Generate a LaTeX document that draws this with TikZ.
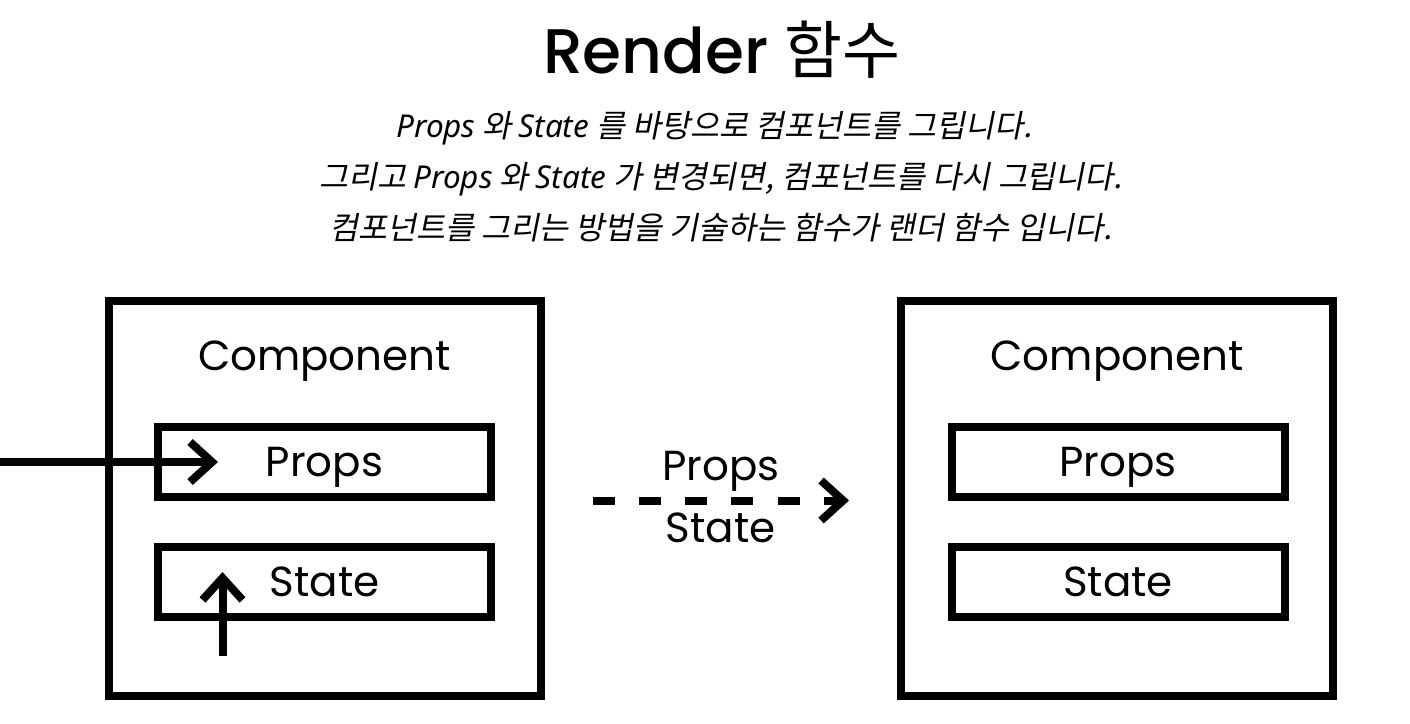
\documentclass[tikz,border=0pt]{standalone}
\usepackage{fontspec}
\setmainfont{Poppins}
\newfontfamily\titlefont{Poppins Medium}
\newfontfamily\krfont{Noto Sans CJK KR}
\newfontfamily\kritfont[FakeSlant=0.2]{Noto Sans CJK KR}
\newfontfamily\latitfont{Noto Sans}
\usepackage{xcolor}
\usepackage{tikz}
\usetikzlibrary{arrows.meta,positioning,calc}
\definecolor{ink}{HTML}{000000}
\definecolor{paper}{HTML}{FFFFFF}
\newcommand{\lt}[1]{{\latitfont\itshape #1}}
\tikzset{
  outerbox/.style={draw=ink, line width=8pt, minimum width=432pt, minimum height=395pt, inner sep=0pt},
  innerbox/.style={draw=ink, line width=8pt, minimum width=333pt, minimum height=70pt, inner sep=0pt, font=\fontsize{42}{42}\selectfont, text height=29pt, text depth=0pt},
  boxtext/.style={inner sep=0pt, font=\fontsize{42}{42}\selectfont, text=ink},
  headline/.style={inner sep=0pt, font=\titlefont\fontsize{63}{63}\selectfont, text=ink},
  subline/.style={inner sep=0pt, font=\kritfont\fontsize{31.5}{31.5}\selectfont, text=ink},
  arrow/.style={-{Straight Barb[sharp, length=22pt, width=40pt]}, line width=8pt, draw=ink},
  dashedarrow/.style={arrow, dash pattern=on 22pt off 24.25pt}
}

\begin{document}
\begin{tikzpicture}[x=1pt, y=-1pt]
  \fill[paper] (0,0) rectangle (1410,723);
  \useasboundingbox (0,0) rectangle (1410,723);

  \node[headline, anchor=base] (title) at (722,73) {Render {\krfont 함수}};
  \node[subline, anchor=base] (desc1) at (714,137) {\lt{Props} 와 \lt{State} 를 바탕으로 컴포넌트를 그립니다.};
  \node[subline, anchor=base] (desc2) at (721,188) {그리고 \lt{Props} 와 \lt{State} 가 변경되면, 컴포넌트를 다시 그립니다.};
  \node[subline, anchor=base] (desc3) at (721,239) {컴포넌트를 그리는 방법을 기술하는 함수가 랜더 함수 입니다.};

  \node[outerbox] (lcomp) at (324.5,498.5) {};
  \node[boxtext, anchor=base] (lname) at (324.5,370) {Component};
  \node[innerbox] (lprops) at (324.5,462) {Props};
  \node[innerbox] (lstate) at (324.5,581.5) {State};

  \node[outerbox] (rcomp) at (1117,498.5) {};
  \node[boxtext, anchor=base] (rname) at (1117,370) {Component};
  \node[innerbox] (rprops) at (1118,462) {Props};
  \node[innerbox] (rstate) at (1118,581.5) {State};

  \coordinate (propsfeed) at (0,462);
  \coordinate (statefeed) at (222.5,656);
  \coordinate (statetip) at (222.5,572);

  \draw[arrow] (propsfeed) -- ([xshift=64pt]lprops.west);
  \draw[arrow] (statefeed) -- (statetip);
  \draw[dashedarrow, shorten <=48pt, shorten >=48pt] ([yshift=-2pt]lcomp.east) --
    node[boxtext, anchor=base, midway, yshift=20pt] (moveprops) {Props}
    node[boxtext, anchor=base, midway, yshift=-42pt] (movestate) {State}
    ([yshift=-2pt]rcomp.west);
\end{tikzpicture}
\end{document}
